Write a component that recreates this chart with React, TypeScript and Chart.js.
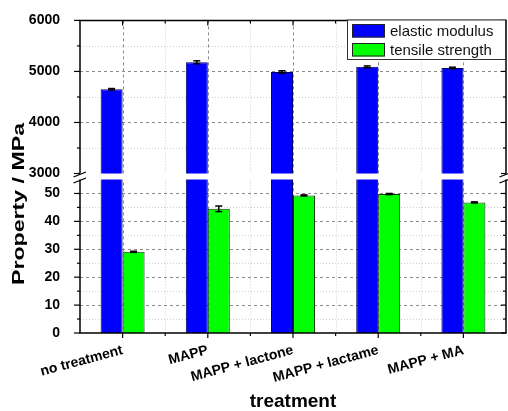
import React, { useEffect, useRef } from 'react';
import { Chart, LinearScale, registerables } from 'chart.js';

const CATEGORIES = ['no treatment', 'MAPP', 'MAPP + lactone', 'MAPP + lactame', 'MAPP + MA'];
const ELASTIC_MODULUS = [4650, 5178, 4988, 5090, 5068];
const ELASTIC_ERR = [15, 30, 25, 18, 15];
const TENSILE_STRENGTH = [29.1, 44.5, 49.3, 49.8, 46.8];
const TENSILE_ERR = [0.2, 1.0, 0.2, 0.2, 0.2];
const Y_MAJOR_TICKS = [0, 10, 20, 30, 40, 50, 3000, 4000, 5000, 6000];
const Y_MINOR_TICKS = [5, 15, 25, 35, 45, 3500, 4500, 5500];
const LOWER_MAX = 55;
const UPPER_MIN = 3000;
const UPPER_MAX = 6000;
const LOWER_FRAC = 0.491;
const UPPER_FRAC = 0.5102;

const FAMILY = "'Liberation Sans', Arial, Helvetica, sans-serif";

class BrokenScale extends LinearScale {
  static id = 'broken';
  determineDataLimits() {
    this.min = 0;
    this.max = UPPER_MAX;
  }
  buildTicks() {
    return Y_MAJOR_TICKS.map((v) => ({ value: v }));
  }
  valueToFrac(v: number) {
    if (v <= LOWER_MAX) return (v / LOWER_MAX) * LOWER_FRAC;
    if (v >= UPPER_MIN) return UPPER_FRAC + ((v - UPPER_MIN) / (UPPER_MAX - UPPER_MIN)) * (1 - UPPER_FRAC);
    return LOWER_FRAC + ((v - LOWER_MAX) / (UPPER_MIN - LOWER_MAX)) * (UPPER_FRAC - LOWER_FRAC);
  }
  getPixelForValue(v: number) {
    return this.bottom - this.valueToFrac(v) * (this.bottom - this.top);
  }
  getValueForPixel(p: number) {
    const f = (this.bottom - p) / (this.bottom - this.top);
    if (f <= LOWER_FRAC) return (f / LOWER_FRAC) * LOWER_MAX;
    if (f >= UPPER_FRAC) return UPPER_MIN + ((f - UPPER_FRAC) / (1 - UPPER_FRAC)) * (UPPER_MAX - UPPER_MIN);
    return LOWER_MAX + ((f - LOWER_FRAC) / (UPPER_FRAC - LOWER_FRAC)) * (UPPER_MIN - LOWER_MAX);
  }
}

Chart.register(...registerables, BrokenScale);

function line(ctx: CanvasRenderingContext2D, x1: number, y1: number, x2: number, y2: number) {
  ctx.beginPath();
  ctx.moveTo(x1, y1);
  ctx.lineTo(x2, y2);
  ctx.stroke();
}

const framePlugin = {
  id: 'frame',
  beforeDatasetsDraw(chart: any) {
    const { ctx, chartArea } = chart;
    const { left, right, top, bottom } = chartArea;
    const x = chart.scales.x;
    const y = chart.scales.y;
    const n = CATEGORIES.length;
    ctx.save();
    ctx.lineWidth = 1;
    // minor grid
    ctx.strokeStyle = '#cfcfcf';
    ctx.setLineDash([1, 2]);
    Y_MINOR_TICKS.forEach((v) => {
      const py = Math.round(y.getPixelForValue(v)) + 0.5;
      line(ctx, left, py, right, py);
    });
    for (let i = 0; i < n - 1; i++) {
      const px = Math.round((x.getPixelForValue(i) + x.getPixelForValue(i + 1)) / 2) + 0.5;
      const gTop = y.getPixelForValue(UPPER_MIN);
      const gBot = y.getPixelForValue(LOWER_MAX);
      line(ctx, px, top, px, gTop);
      line(ctx, px, gBot, px, bottom);
    }
    // major grid
    ctx.strokeStyle = '#8a8a8a';
    ctx.setLineDash([3, 3]);
    Y_MAJOR_TICKS.forEach((v) => {
      if (v === 0 || v === UPPER_MAX) return;
      const py = Math.round(y.getPixelForValue(v)) + 0.5;
      line(ctx, left, py, right, py);
    });
    for (let i = 0; i < n; i++) {
      const px = Math.round(x.getPixelForValue(i)) + 0.5;
      line(ctx, px, top, px, bottom);
    }
    ctx.restore();
  },
  afterDatasetsDraw(chart: any) {
    const { ctx, chartArea } = chart;
    const { left, right, top, bottom } = chartArea;
    const x = chart.scales.x;
    const y = chart.scales.y;
    const n = CATEGORIES.length;
    const gTop = y.getPixelForValue(UPPER_MIN);
    const gBot = y.getPixelForValue(LOWER_MAX);
    ctx.save();
    // gap band
    ctx.fillStyle = '#ffffff';
    ctx.fillRect(left, gTop, right - left, gBot - gTop);

    // error bars
    ctx.strokeStyle = '#000';
    ctx.lineWidth = 1.5;
    chart.data.datasets.forEach((ds: any, di: number) => {
      const meta = chart.getDatasetMeta(di);
      ds.data.forEach((v: number, j: number) => {
        const e = ds.errors[j];
        const cx = meta.data[j].x;
        const y1 = y.getPixelForValue(v + e);
        const y2 = y.getPixelForValue(v - e);
        line(ctx, cx, y1, cx, y2);
        line(ctx, cx - 3.5, y1, cx + 3.5, y1);
        line(ctx, cx - 3.5, y2, cx + 3.5, y2);
      });
    });

    // frame
    ctx.lineWidth = 1.5;
    ctx.strokeStyle = '#000';
    line(ctx, left - 0.75, top, right + 0.75, top);
    line(ctx, left - 0.75, bottom, right + 0.75, bottom);
    line(ctx, left, top, left, gTop);
    line(ctx, left, gBot, left, bottom);
    line(ctx, right, top, right, gTop);
    line(ctx, right, gBot, right, bottom);

    // y ticks
    ctx.lineWidth = 1.2;
    Y_MAJOR_TICKS.forEach((v) => {
      const py = y.getPixelForValue(v);
      line(ctx, left - 6, py, left, py);
      line(ctx, right - 5, py, right, py);
    });
    Y_MINOR_TICKS.forEach((v) => {
      const py = y.getPixelForValue(v);
      line(ctx, left - 3, py, left, py);
      line(ctx, right - 3, py, right, py);
    });
    // x ticks
    for (let i = 0; i < n; i++) {
      const px = x.getPixelForValue(i);
      line(ctx, px, bottom, px, bottom + 5);
      line(ctx, px, top, px, top + 5);
    }
    for (let i = 1; i < n; i++) {
      const px = (x.getPixelForValue(i - 1) + x.getPixelForValue(i)) / 2;
      line(ctx, px, bottom, px, bottom + 3);
      line(ctx, px, top, px, top + 3);
    }

    // break marks
    ctx.lineWidth = 1.2;
    [left, right].forEach((ax) => {
      [gTop + 1, gBot + 1].forEach((yy) => {
        line(ctx, ax - 6.5, yy + 2.5, ax + 6, yy - 2.5);
      });
    });

    // legend
    const lx = 347.5, ly = 20, lw = 158, lh = 39.5;
    ctx.fillStyle = '#fff';
    ctx.fillRect(lx, ly, lw, lh);
    ctx.lineWidth = 1;
    ctx.strokeStyle = '#333';
    ctx.strokeRect(lx, ly, lw, lh);
    ctx.font = `15px ${FAMILY}`;
    ctx.textBaseline = 'middle';
    ctx.textAlign = 'left';
    chart.data.datasets.forEach((ds: any, di: number) => {
      const sy = ly + 4 + di * 19;
      ctx.fillStyle = ds.backgroundColor;
      ctx.fillRect(352, sy, 33, 13.5);
      ctx.strokeStyle = '#222';
      ctx.strokeRect(352.5, sy + 0.5, 32, 12.5);
      ctx.fillStyle = '#111';
      ctx.fillText(ds.label, 390, sy + 7.5);
    });

    // y title
    ctx.save();
    ctx.translate(20, 204);
    ctx.rotate(-Math.PI / 2);
    ctx.font = `bold 16px ${FAMILY}`;
    const w = ctx.measureText('Property / MPa').width;
    ctx.scale(162 / w, 1);
    ctx.fillStyle = '#000';
    ctx.textAlign = 'center';
    ctx.textBaseline = 'middle';
    ctx.fillText('Property / MPa', 0, 0);
    ctx.restore();

    ctx.restore();
  },
};

export default function App() {
  const ref = useRef<HTMLCanvasElement>(null);
  useEffect(() => {
    const chart = new Chart(ref.current as HTMLCanvasElement, {
      type: 'bar',
      data: {
        labels: CATEGORIES,
        datasets: [
          {
            label: 'elastic modulus',
            data: ELASTIC_MODULUS,
            backgroundColor: '#0000ff',
            borderColor: '#00005a',
            borderWidth: 1,
            errors: ELASTIC_ERR,
          } as any,
          {
            label: 'tensile strength',
            data: TENSILE_STRENGTH,
            backgroundColor: '#00ff00',
            borderColor: '#0a3a0a',
            borderWidth: 1,
            errors: TENSILE_ERR,
          } as any,
        ],
      },
      options: {
        animation: false,
        responsive: false,
        devicePixelRatio: 1,
        layout: { padding: { top: 20, right: 2, left: 0, bottom: 0 } },
        plugins: { legend: { display: false }, tooltip: { enabled: false } },
        datasets: { bar: { categoryPercentage: 0.516, barPercentage: 1 } },
        scales: {
          x: {
            grid: { display: false },
            border: { display: false },
            ticks: {
              minRotation: 15,
              maxRotation: 15,
              autoSkip: false,
              padding: 1,
              color: '#000',
              font: { family: FAMILY, size: 14, weight: 'bold' },
            },
            title: {
              display: true,
              text: 'treatment',
              color: '#000',
              padding: 0,
              font: { family: FAMILY, size: 19, weight: 'bold', lineHeight: 1 },
            },
            afterFit: (s: any) => {
              s.height = 78;
            },
          },
          y: {
            type: 'broken' as any,
            grid: { display: false },
            border: { display: false },
            ticks: {
              autoSkip: false,
              padding: 12,
              color: '#000',
              font: { family: FAMILY, size: 14, weight: 'bold' },
              callback: (v: any) => String(v),
            },
            afterFit: (s: any) => {
              s.width = 80;
            },
          } as any,
        },
      } as any,
      plugins: [framePlugin],
    });
    return () => chart.destroy();
  }, []);
  return (
    <div style={{ position: 'absolute', left: 0, top: 0, width: 508, height: 411 }}>
      <canvas ref={ref} width={508} height={411} style={{ display: 'block' }} />
    </div>
  );
}
